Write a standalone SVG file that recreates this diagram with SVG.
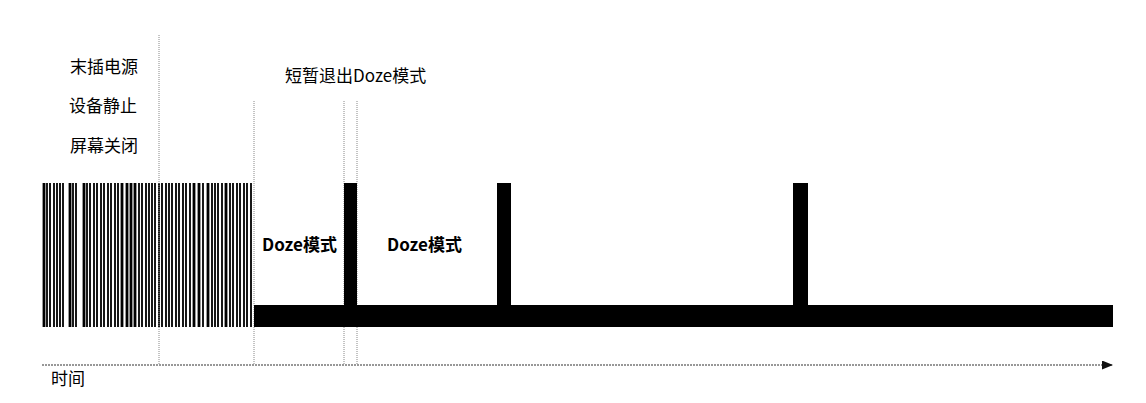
<svg xmlns="http://www.w3.org/2000/svg" width="1146" height="403" viewBox="0 0 1146 403">
  <defs>
    <style>
      .lbl { font-family: "Noto Sans CJK SC", "Noto Sans", sans-serif; font-size: 17px; font-weight: normal; fill: #000; }
      .bold { font-weight: bold; }
      .guide { stroke: #888; stroke-width: 1; stroke-dasharray: 1 1; fill: none; }
      .bar { fill: #000; }
    </style>
    <marker id="arrow" viewBox="0 0 11 9" refX="11" refY="4.5" markerWidth="11" markerHeight="9" markerUnits="userSpaceOnUse" orient="auto">
      <polygon points="0,0 11,4.5 0,9" fill="#111"/>
    </marker>
  </defs>
  <rect width="1146" height="403" fill="#fff"/>

  <g id="labels-left">
    <text class="lbl" x="70" y="73">末插电源</text>
    <text class="lbl" x="69" y="112">设备静止</text>
    <text class="lbl" x="70" y="152">屏幕关闭</text>
  </g>

  <g id="barcode">
    <path stroke="#000" stroke-width="2.8" fill="none" d="M44 183V327M70 183V327M84 183V327M122 183V327M127 183V327M131 183V327M135 183V327M194 183V327M199 183V327M208 183V327M226 183V327"/>
    <path stroke="#000" stroke-width="1.8" fill="none" d="M47 183V327M50 183V327M54 183V327M57 183V327M60 183V327M63 183V327M73 183V327M76 183V327M87 183V327M90 183V327M94 183V327M97 183V327M101 183V327M104 183V327M108 183V327M111 183V327M115 183V327M118 183V327M139 183V327M142 183V327M146 183V327M149 183V327M152 183V327M155 183V327M159 183V327M162 183V327M166 183V327M169 183V327M172 183V327M176 183V327M179 183V327M183 183V327M186 183V327M190 183V327M203 183V327M212 183V327M215 183V327M218 183V327M222 183V327M230 183V327M233 183V327M237 183V327M240 183V327M244 183V327M247 183V327M251 183V327"/>
  </g>

  <g id="guides">
    <line class="guide" x1="159" y1="35" x2="159" y2="365"/>
    <line class="guide" x1="254" y1="101" x2="254" y2="365"/>
    <line class="guide" x1="344" y1="101" x2="344" y2="365"/>
    <line class="guide" x1="357" y1="101" x2="357" y2="365"/>
  </g>

  <g id="doze-signal">
    <rect class="bar" x="254" y="305" width="859" height="22"/>
    <rect class="bar" x="344" y="183" width="13" height="130"/>
    <rect class="bar" x="497" y="183" width="14" height="130"/>
    <rect class="bar" x="793" y="183" width="15" height="130"/>
  </g>

  <g id="labels-doze">
    <text class="lbl" x="285" y="82">短暂退出Doze模式</text>
    <text class="lbl bold" x="262" y="251">Doze模式</text>
    <text class="lbl bold" x="387" y="251">Doze模式</text>
  </g>

  <g id="connectors">
    <line x1="42" y1="365" x2="1113" y2="365" stroke="#333" stroke-width="1.2" stroke-dasharray="2 1" marker-end="url(#arrow)"/>
  </g>

  <g id="axis-label">
    <text class="lbl" x="51" y="385">时间</text>
  </g>
</svg>
